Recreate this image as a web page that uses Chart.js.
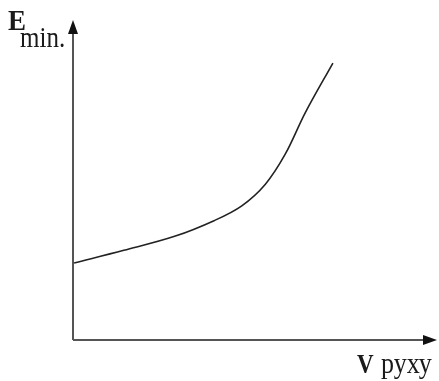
<!DOCTYPE html>
<html>
<head>
<meta charset="utf-8">
<script src="https://cdn.jsdelivr.net/npm/chart.js@4/dist/chart.umd.min.js"></script>
<style>
  html, body { margin: 0; padding: 0; background: #fff; }
  canvas { display: block; }
</style>
</head>
<body>
<canvas id="energyChart" width="439" height="381"></canvas>
<script>
// Curve of minimum energy vs speed (arbitrary units, 0..100 on both axes)
const speedValues = [0.3, 14, 28, 39, 46.5, 53, 58.5, 64, 71.6];
const energyValues = [24.2, 28.2, 32.6, 37.6, 42.2, 49.0, 58.5, 71.5, 87.1];

const yLabelMain = "E";
const yLabelSub = "min.";
const xLabelMain = "V";
const xLabelSub = "руху";

const points = speedValues.map((v, i) => ({ x: v, y: energyValues[i] }));

// draws the axis arrows and the axis captions
const axisArrows = {
  id: "axisArrows",
  afterDraw(chart) {
    const { ctx, chartArea } = chart;
    const x0 = chartArea.left;
    const y0 = chartArea.bottom;
    ctx.save();
    ctx.strokeStyle = "#555";
    ctx.lineWidth = 2;
    ctx.beginPath();
    ctx.moveTo(x0, y0);
    ctx.lineTo(x0, chartArea.top + 4);
    ctx.moveTo(x0, y0);
    ctx.lineTo(chartArea.right - 4, y0);
    ctx.stroke();

    ctx.fillStyle = "#111";
    // y arrow
    ctx.beginPath();
    ctx.moveTo(x0, chartArea.top - 2);
    ctx.lineTo(x0 - 5, chartArea.top + 12);
    ctx.lineTo(x0 + 5, chartArea.top + 12);
    ctx.closePath();
    ctx.fill();
    // x arrow
    ctx.beginPath();
    ctx.moveTo(chartArea.right + 1, y0);
    ctx.lineTo(chartArea.right - 13, y0 - 5);
    ctx.lineTo(chartArea.right - 13, y0 + 5);
    ctx.closePath();
    ctx.fill();

    ctx.fillStyle = "#1a1a1a";
    ctx.textBaseline = "alphabetic";
    ctx.save();
    ctx.translate(8, 30);
    ctx.scale(1, 1.1);
    ctx.font = "bold 27px 'Liberation Serif'";
    ctx.fillText(yLabelMain, 0, 0);
    ctx.restore();
    ctx.save();
    ctx.translate(20, 47);
    ctx.scale(1, 1.15);
    ctx.font = "25px 'Liberation Serif'";
    ctx.fillText(yLabelSub, 0, 0);
    ctx.restore();

    ctx.save();
    ctx.translate(357, 373);
    ctx.scale(1, 1.15);
    ctx.font = "bold 23px 'Liberation Serif'";
    ctx.fillText(xLabelMain, 0, 0);
    ctx.font = "26px 'Liberation Serif'";
    ctx.fillText(xLabelSub, 24, 0);
    ctx.restore();
    ctx.restore();
  }
};

new Chart(document.getElementById("energyChart"), {
  type: "scatter",
  data: {
    datasets: [
      {
        data: points,
        showLine: true,
        borderColor: "#222",
        borderWidth: 1.6,
        pointRadius: 0,
        tension: 0.35,
      },
    ],
  },
  options: {
    responsive: false,
    animation: false,
    layout: { padding: { left: 73, top: 22, right: 3, bottom: 41 } },
    plugins: { legend: { display: false }, tooltip: { enabled: false } },
    scales: {
      x: {
        min: 0,
        max: 100,
        display: true,
        grid: { display: false, drawTicks: false },
        border: { display: false },
        ticks: { display: false },
        afterFit: (s) => { s.height = 0; },
      },
      y: {
        min: 0,
        max: 100,
        display: true,
        grid: { display: false, drawTicks: false },
        border: { display: false },
        ticks: { display: false },
        afterFit: (s) => { s.width = 0; },
      },
    },
  },
  plugins: [axisArrows],
});
</script>
</body>
</html>
